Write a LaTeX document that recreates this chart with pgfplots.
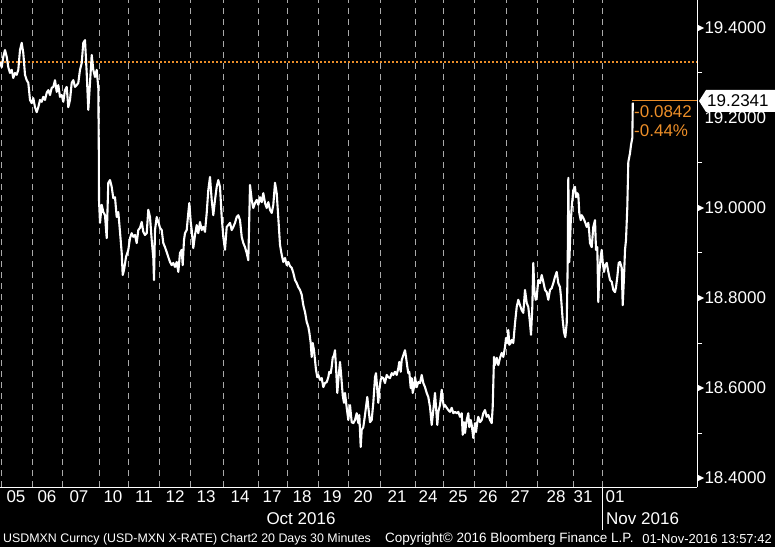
\documentclass[border=0pt]{standalone}
\usepackage{fontspec}
\setmainfont{Liberation Sans}
\usepackage{pgfplots}
\pgfplotsset{compat=1.18}
\definecolor{bborange}{RGB}{236,142,40}
\definecolor{gridgray}{RGB}{170,170,170}
\begin{document}
\begin{tikzpicture}
\useasboundingbox (0pt,0pt) rectangle (775pt,547pt);
\fill[black] (0pt,0pt) rectangle (775pt,547pt);
\begin{axis}[
  at={(0pt,60pt)}, anchor=south west,
  width=697pt, height=487pt, scale only axis,
  xmin=0, xmax=697, ymin=18.38, ymax=19.4622,
  axis x line*=bottom, axis y line*=right,
  axis line style={white, line width=1pt},
  xtick={16,47,79,113,144,175,206,240,272,302,332,363,397,428,458,488,520,556,583,615},
  xticklabels={05,06,07,10,11,12,13,14,17,18,19,20,21,24,25,26,27,28,31,01},
  minor xtick={1,32,62,99,128,159,190,223.5,258,287,318,348,380.5,415,443,474,506,537,573,602},
  xminorgrids=true,
  minor grid style={gridgray, dash pattern=on 6pt off 5pt, line width=0.9pt},
  xtick style={draw=none},
  ytick={18.4,18.6,18.8,19.0,19.2,19.4},
  minor ytick={18.5,18.7,18.9,19.1,19.3},
  ytick style={white, line width=1pt},
  major tick length=0pt, minor tick length=5pt, tick align=outside,
  yticklabel pos=right,
  /pgf/number format/fixed,
  /pgf/number format/fixed zerofill,
  /pgf/number format/precision=4,
  /pgf/number format/assume math mode=true,
  yticklabel style={anchor=west, xshift=4pt},
  ticklabel style={font=\fontsize{17}{17}\selectfont, text=white},
  clip=false,
]
\addplot[bborange, line width=1.8pt, dash pattern=on 2pt off 2pt] coordinates {(0,19.3244) (697,19.3244)};
\addplot[white, line width=2.1pt, line join=round] coordinates {
(0,19.324) (1.7,19.313) (3.3,19.336) (5,19.351) (6.7,19.336) (8.3,19.313) (10,19.300) (11.7,19.307)
(13.3,19.289) (15,19.300) (16.7,19.296) (18.3,19.307) (20,19.351) (21.7,19.367) (23.3,19.344) (25,19.296)
(26.7,19.284) (28.3,19.278) (30,19.240) (31.7,19.233) (33.3,19.244) (35,19.224) (36.7,19.213) (38.3,19.224)
(40,19.240) (41.7,19.236) (43.3,19.247) (45,19.240) (46.7,19.256) (48.3,19.262) (50,19.251) (51.7,19.267)
(53.3,19.269) (55,19.284) (56.7,19.258) (58.3,19.273) (60,19.247) (61.7,19.251) (63.3,19.236) (65,19.262)
(66.7,19.269) (68.3,19.224) (70,19.240) (71.7,19.278) (73.3,19.284) (75,19.269) (76.7,19.273) (78.3,19.278)
(80,19.307) (81.7,19.322) (83.3,19.367) (85,19.373) (86.7,19.300) (88.3,19.218) (90,19.278) (91.7,19.340)
(93.3,19.307) (95,19.291) (96.7,19.307) (98.3,19.267) (98.8,19.129) (99,19.018)
(100,18.967) (101.7,19.007) (103.3,18.991) (105,18.984) (106.7,18.933) (108.3,19.056) (110,19.062)
(111.7,19.047) (113.3,19.022) (115,19.024) (116.7,18.980) (118.3,18.991) (120,18.947) (121.7,18.900)
(122.7,18.851) (124,18.862) (126,18.891) (128.3,18.907) (130,18.933) (131.7,18.944) (133.3,18.936)
(135,18.940) (136.7,18.922) (138.3,18.951) (140,18.956) (141.7,18.969) (143.3,18.947) (145,18.940)
(146.7,18.944) (148.3,18.996) (150,18.980) (151.7,18.929) (153.3,18.889) (154,18.840) (155,18.951)
(156.7,18.980) (158.3,18.969) (160,18.956) (161.7,18.951) (163.3,18.922) (165,18.913) (166.7,18.902)
(168.3,18.891) (170,18.880) (171.7,18.873) (173.3,18.878) (175,18.869) (176.7,18.880) (178.3,18.858)
(180,18.900) (181.7,18.907) (182.7,18.873) (184,18.929) (185,18.944) (186.7,18.951) (188.3,18.989)
(189.3,19.011) (190.7,18.969) (191.7,18.951) (193.3,18.911) (195,18.940) (196.7,18.962) (198.3,18.944)
(200,18.969) (201.7,18.951) (203.3,18.958) (205,18.947) (206.7,18.989) (208.3,19.040) (210,19.069)
(211.7,19.018) (213.3,18.984) (215,19.018) (216.7,19.047) (218.3,19.062) (220,19.047) (221.7,18.980)
(223.3,18.936) (225,18.907) (226.7,18.958) (228.3,18.962) (230,18.967) (231.7,18.951) (233.3,18.958)
(235,18.967) (236.7,18.980) (238.3,18.984) (240,18.973) (241.7,18.936) (243.3,18.922) (245,18.913)
(246.7,18.900) (248.3,18.884) (249.3,18.980) (250,19.051) (251.7,19.018) (253.3,19.000) (255,19.011)
(256.7,19.018) (258.3,19.007) (260,19.024) (261.7,19.013) (263.3,19.033) (265,19.011) (266.7,19.000)
(268.3,19.013) (270,18.996) (271.7,18.989) (273.3,19.007) (275,19.056) (276.7,19.033) (278.3,18.978)
(280,18.918) (281.7,18.896) (283.3,18.880) (285,18.889) (286.7,18.873) (288.3,18.880) (290,18.871)
(291.7,18.867) (293.3,18.856) (295,18.840) (296.7,18.833) (298.3,18.824) (300,18.818) (301.7,18.807)
(303.3,18.784) (305,18.769) (306.7,18.747) (308.3,18.736) (309.3,18.724) (310.7,18.700) (311.7,18.669)
(312.7,18.700) (314,18.684) (315,18.662) (316,18.640) (317.3,18.624) (318.3,18.629) (320,18.618)
(321.7,18.622) (323.3,18.602) (325,18.611) (326.7,18.613) (328.3,18.624) (329.3,18.636) (330.7,18.633)
(331.7,18.647) (332.7,18.667) (334,18.673) (335,18.684) (336,18.647) (337.3,18.589) (338.3,18.618)
(340,18.658) (341,18.633) (342.7,18.584) (344,18.567) (345,18.589) (346.7,18.556) (348.3,18.529)
(350,18.562) (351.7,18.524) (353.3,18.522) (355,18.529) (356.7,18.544) (358.3,18.522) (359.3,18.540)
(360.7,18.469) (361.7,18.507) (363.3,18.513) (365,18.540) (366,18.558) (367.3,18.580) (368.3,18.558)
(370,18.524) (371.7,18.529) (373.3,18.567) (375,18.624) (376,18.633) (377.3,18.596) (378.3,18.567)
(379.3,18.596) (380.7,18.618) (381.7,18.624) (383.3,18.622) (385,18.611) (386.7,18.629) (388.3,18.624)
(390,18.622) (391.7,18.633) (393.3,18.629) (395,18.636) (396.7,18.629) (398.3,18.644) (399.3,18.658)
(400.7,18.636) (401.7,18.662) (403.3,18.673) (405,18.684) (406,18.669) (407.3,18.647) (408.3,18.633)
(409.3,18.636) (410.7,18.600) (411.7,18.622) (412.7,18.589) (414,18.602) (415,18.624) (416.7,18.602)
(418.3,18.613) (420,18.611) (421.7,18.629) (423.3,18.611) (425,18.602) (426.7,18.589) (428.3,18.580)
(430,18.558) (431.7,18.518) (433.3,18.551) (435,18.589) (436,18.558) (437.3,18.518) (438.3,18.547)
(440,18.562) (441.7,18.596) (442.7,18.573) (444,18.558) (445,18.562) (446.7,18.556) (448.3,18.551)
(450,18.547) (451.7,18.556) (453.3,18.544) (455,18.547) (456.7,18.544) (458.3,18.547) (460,18.536)
(461.7,18.544) (462.7,18.496) (464,18.524) (465,18.500) (466.7,18.529) (468.3,18.544) (469.3,18.513)
(470.7,18.529) (471.7,18.518) (473.3,18.489) (475,18.522) (476,18.502) (477.3,18.524) (478.3,18.536)
(480,18.524) (481.7,18.529) (483.3,18.544) (485,18.551) (486.7,18.536) (488.3,18.540) (490,18.529)
(491.7,18.522) (492.7,18.558) (494,18.669) (495,18.651) (496.7,18.667) (498.3,18.651) (500,18.667)
(501.7,18.678) (503.3,18.669) (505,18.691) (506,18.711) (507.3,18.700) (508.3,18.729) (509.3,18.696)
(510.7,18.700) (511.7,18.707) (513.3,18.700) (515,18.744) (516.7,18.780) (518.3,18.796) (520,18.784)
(521.7,18.773) (523.3,18.767) (525,18.818) (526.7,18.789) (528.3,18.780) (530,18.744) (531,18.718)
(532.3,18.780) (533.3,18.878) (534.3,18.818) (535.7,18.796) (536.7,18.802) (538.3,18.840) (540,18.833)
(541.7,18.851) (543.3,18.836) (545,18.818) (546.7,18.813) (548.3,18.796) (550,18.818) (551.7,18.822)
(553.3,18.833) (555,18.847) (556.7,18.858) (558.3,18.833) (560,18.824) (561,18.802) (562.7,18.751)
(564,18.724) (565.3,18.713) (566.7,18.744) (567.7,18.878) (568.3,19.067) (569.3,18.880) (570.7,18.967)
(571.7,19.002) (573.3,19.040) (575,19.047) (576,19.024) (577.3,19.033) (578.3,19.029) (579.3,18.989)
(580.7,18.973) (581.7,18.984) (583.3,18.978) (585,18.969) (586.7,18.958) (588.3,18.967) (589.3,18.944)
(590,18.922) (591.7,18.913) (593.3,18.958) (595,18.973) (596,18.907) (597.3,18.913) (598.3,18.791)
(599.3,18.856) (600.7,18.891) (601.7,18.907) (602.7,18.880) (604,18.858) (605.3,18.873) (606.7,18.878)
(608.3,18.858) (610,18.840) (611.7,18.836) (613.3,18.818) (615,18.813) (616,18.824) (617.3,18.847)
(618.7,18.878) (620,18.880) (621.7,18.867) (622.7,18.784) (624,18.847) (625,18.907) (626,18.929)
(627.3,19.002) (628.3,19.102) (630,19.122) (631,19.140) (632.3,19.156) (632.8,19.2341)
};
\end{axis}
% tick markers on the right axis
\foreach \yy in {519,339,249,159,69} {
  \fill[white] (697pt,\yy pt+3.5pt) -- (704pt,\yy pt) -- (697pt,\yy pt-3.5pt) -- cycle;
}
% last value label
\fill[white] (699pt,446pt) -- (706pt,457pt) -- (775pt,457pt) -- (775pt,435pt) -- (706pt,435pt) -- cycle;
\node[anchor=west, inner sep=0pt, text=black, font=\fontsize{17}{17}\selectfont] at (707pt,446pt) {19.2341};
\draw[bborange, line width=1pt] (632pt,446pt) -- (697pt,446pt);
\node[anchor=west, inner sep=0pt, text=bborange, font=\fontsize{17}{17}\selectfont] at (634pt,435.5pt) {-0.0842};
\node[anchor=west, inner sep=0pt, text=bborange, font=\fontsize{17}{17}\selectfont] at (634pt,416.5pt) {-0.44\%};
% month labels
\draw[white, line width=1pt] (602pt,60pt) -- (602pt,17pt);
\node[inner sep=0pt, text=white, font=\fontsize{17}{17}\selectfont] at (301pt,28pt) {Oct 2016};
\node[anchor=west, inner sep=0pt, text=white, font=\fontsize{17}{17}\selectfont] at (606pt,28pt) {Nov 2016};
% footer
\node[anchor=west, inner sep=0pt, text=white, font=\fontsize{12.4}{12.4}\selectfont] at (3pt,8pt) {USDMXN Curncy (USD-MXN X-RATE) Chart2 20 Days 30 Minutes};
\node[anchor=west, inner sep=0pt, text=white, font=\fontsize{13.5}{13.5}\selectfont] at (385pt,8pt) {Copyright© 2016 Bloomberg Finance L.P.};
\node[anchor=east, inner sep=0pt, text=white, font=\fontsize{13}{13}\selectfont] at (772pt,8pt) {01-Nov-2016 13:57:42};
\end{tikzpicture}
\end{document}
